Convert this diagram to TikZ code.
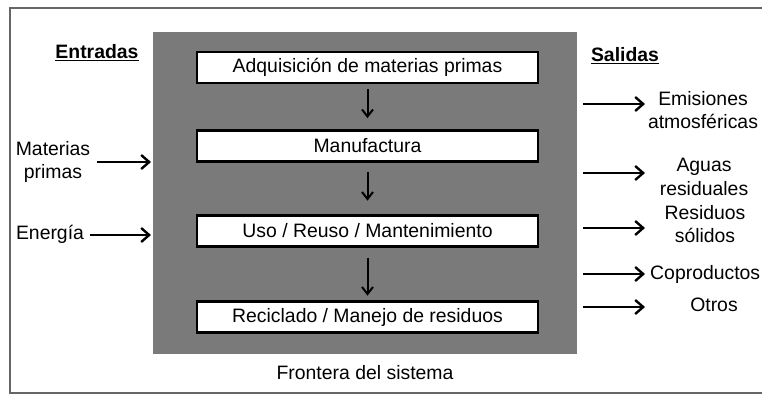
\documentclass[tikz,border=0pt]{standalone}
\usepackage{fontspec}
\setmainfont{Liberation Sans}
\usetikzlibrary{arrows.meta}
\begin{document}
\begin{tikzpicture}[x=1pt,y=-1pt,
  lbl/.style={font=\fontsize{19.4}{23.5}\selectfont, inner sep=0pt, align=center},
  stage/.style={draw=black, line width=2.2pt, fill=white, minimum width=341pt, minimum height=31pt, inner sep=0pt, font=\fontsize{19.4}{22}\selectfont},
  flow/.style={line width=2.6pt, -{Straight Barb[length=8pt,width=14pt,line width=2.4pt]}},
  down/.style={line width=2pt, -{Straight Barb[length=7pt,width=11pt,line width=2pt]}},
  head/.style={font=\fontsize{19.4}{22}\selectfont\bfseries, inner sep=0pt}]
\useasboundingbox (0,0) rectangle (762,396);
\fill[white] (0,0) rectangle (762,396);
\draw[line width=1.6pt, color=black!60] (762,8) -- (10,8) -- (10,393) -- (762,393);
\fill[color=black!52] (153,32) rectangle (577,354);
\node[stage] (s1) at (367.5,67.5) {Adquisición de materias primas};
\node[stage] (s2) at (367.5,146) {Manufactura};
\node[stage] (s3) at (367.5,231) {Uso / Reuso / Mantenimiento};
\node[stage] (s4) at (367.5,317) {Reciclado / Manejo de residuos};
\draw[down] ([yshift=-5pt]s1.south) -- ([yshift=-34pt]s1.south);
\draw[down] ([yshift=-9pt]s2.south) -- ([yshift=-38pt]s2.south);
\draw[down] ([yshift=-10pt]s3.south) -- ([yshift=-48pt]s3.south);
\node[lbl] (front) at (365,373) {Frontera del sistema};
\node[head] (ent) at (97,53) {\underline{Entradas}};
\node[head] (sal) at (625,56) {\underline{Salidas}};
\node[lbl] (mp) at (53,162) {Materias\\primas};
\node[lbl] (en) at (50,234) {Energía};
\coordinate (mpa) at (97,162);
\coordinate (mpb) at (151,162);
\coordinate (ena) at (90,235);
\coordinate (enb) at (151,235);
\draw[flow] (mpa) -- (mpb);
\draw[flow] (ena) -- (enb);
\node[lbl] (o1) at (703,110) {Emisiones\\atmosféricas};
\node[lbl] (o2) at (704,177) {Aguas\\residuales};
\node[lbl] (o3) at (705,224) {Residuos\\sólidos};
\node[lbl, anchor=west] (o4) at (650,274) {Coproductos};
\node[lbl] (o5) at (714,305) {Otros};
\foreach \y/\n in {104/1,173/2,228/3,274/4,307/5}{
  \coordinate (ra\n) at (583,\y);
  \coordinate (rb\n) at (645,\y);
  \draw[flow] (ra\n) -- (rb\n);
}
\end{tikzpicture}
\end{document}
